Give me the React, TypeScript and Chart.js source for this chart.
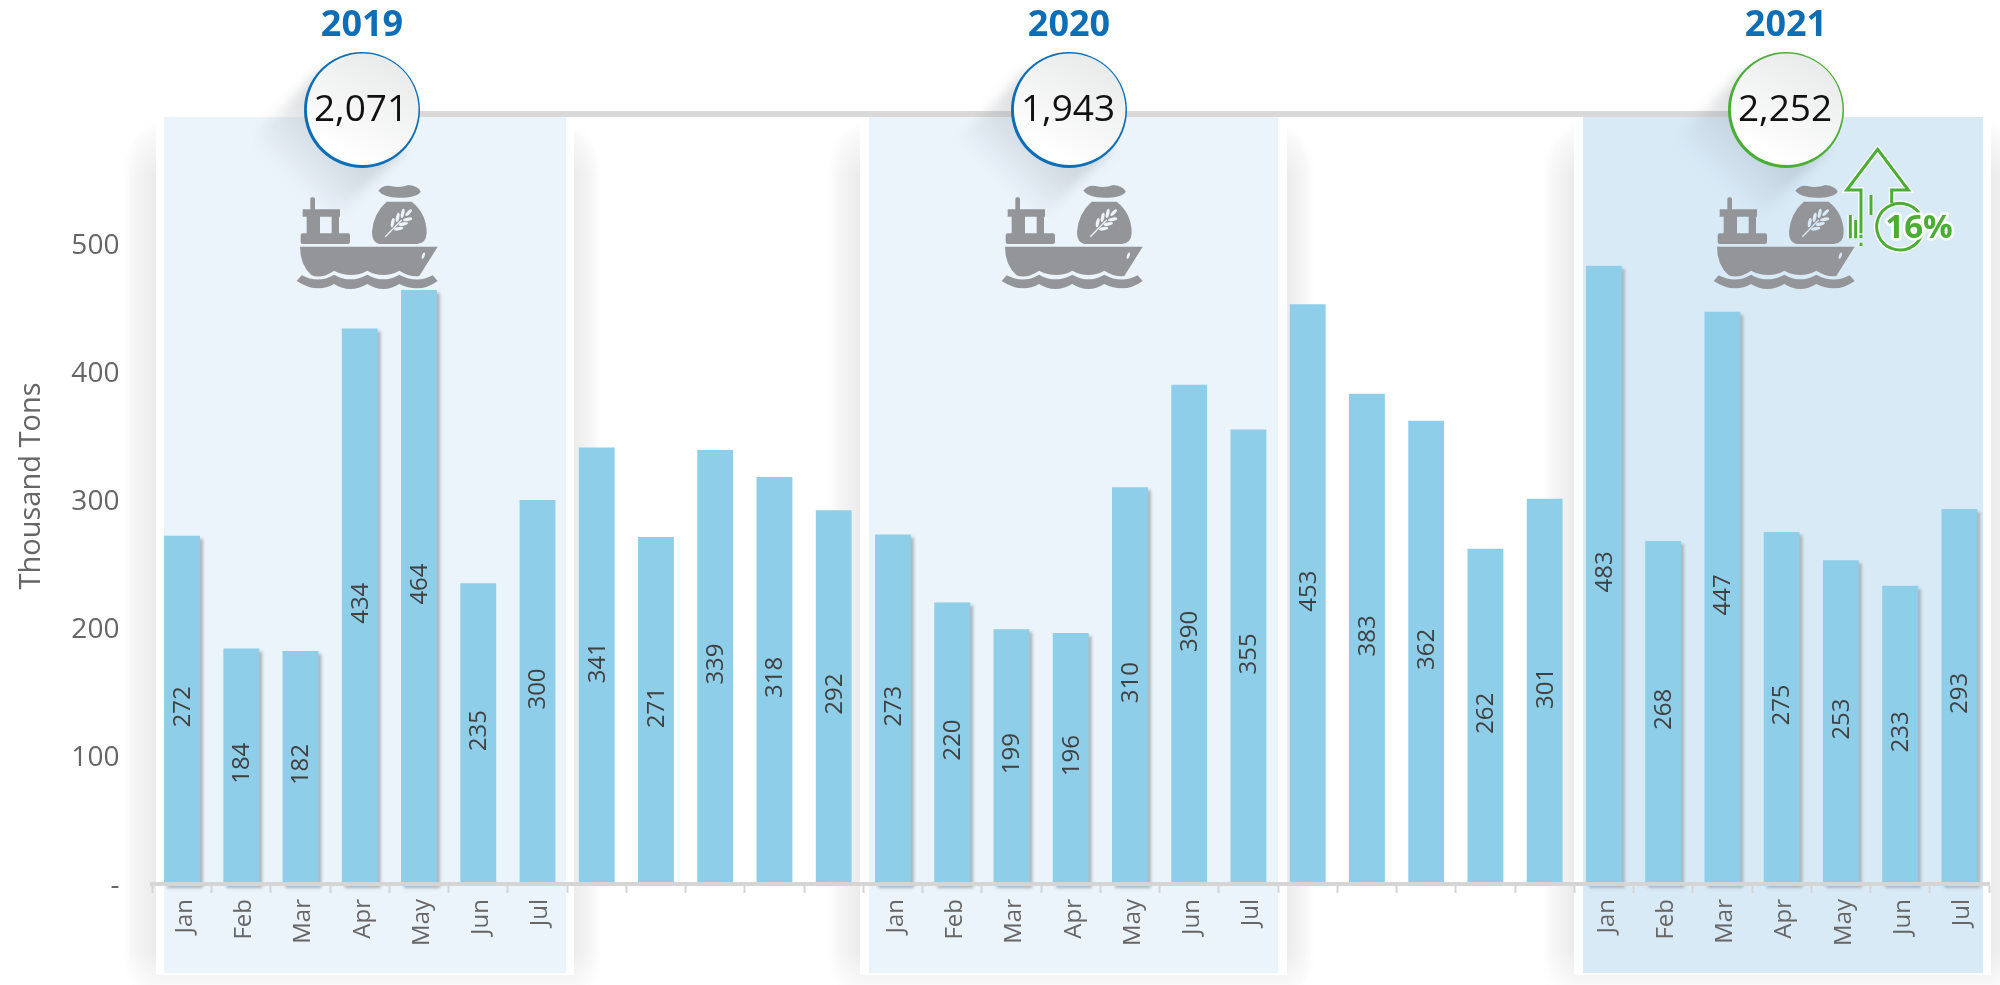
import React, { useEffect, useRef } from "react";
import { Chart, registerables } from "chart.js";

Chart.register(...registerables);

const months = ["Jan", "Feb", "Mar", "Apr", "May", "Jun", "Jul"];
const gap = ["", "", "", "", ""];
const categories = [...months, ...gap, ...months, ...gap, ...months];
const tons = [272, 184, 182, 434, 464, 235, 300, 341, 271, 339, 318, 292, 273, 220, 199, 196, 310, 390, 355, 453, 383, 362, 262, 301, 483, 268, 447, 275, 253, 233, 293];
const shadowedBars = [0, 1, 2, 3, 4, 12, 13, 14, 15, 16, 24, 25, 26, 27, 28, 29, 30];
const years = ["2019", "2020", "2021"];
const totals = ["2,071", "1,943", "2,252"];
const growth = "16%";
const yTitle = "Thousand Tons";

const FONT = '"Open Sans"';
const BLUE = "#0e6eb5";
const GREEN = "#4aad34";
const panels = [
  { sx: 127, sr: 597, wl: 156, wr: 574, l: 164, r: 566, fill: "#ebf3fb", cx: 362, tx: 362, ship: 0, rim: BLUE },
  { sx: 832, sr: 1310, wl: 860, wr: 1287, l: 869, r: 1278, fill: "#ebf3fb", cx: 1069, tx: 1069, ship: 705, rim: BLUE },
  { sx: 1547, sr: 2020, wl: 1574, wr: 1991, l: 1583, r: 1983, fill: "#d9eaf7", cx: 1786, tx: 1786, ship: 1417, rim: GREEN },
];

function drawShip(ctx: CanvasRenderingContext2D, dx: number, bg: string) {
  ctx.save();
  ctx.translate(130 + dx, 0);
  ctx.scale(1 / 3, 1 / 3);
  ctx.fillStyle = "#939598";
  ctx.fill(new Path2D("M510 740 H923 L868 828 Q840 832 808 812 Q760 838 712 812 Q665 838 612 812 Q575 838 545 826 Q510 795 510 740 Z"));
  ctx.fill(new Path2D("M500 843 L515 826 Q565 852 612 824 Q660 852 712 824 Q760 852 808 824 Q860 852 908 826 L923 843 Q870 882 808 852 Q760 882 712 852 Q660 882 612 852 Q560 882 500 843 Z"));
  ctx.beginPath();
  ctx.roundRect(512, 700, 148, 32, 6);
  ctx.rect(518, 628, 112, 22);
  ctx.rect(530, 650, 40, 52);
  ctx.rect(605, 650, 22, 52);
  ctx.roundRect(541, 592, 14, 40, 5);
  ctx.fill();
  ctx.fill(new Path2D("M745 572 Q760 553 782 558 Q808 566 835 555 Q865 558 872 575 Q860 593 808 593 Q760 592 745 572 Z"));
  ctx.fill(new Path2D("M770 605 H845 Q890 640 890 700 Q888 732 860 732 H755 Q726 732 726 695 Q730 640 770 605 Z"));
  ctx.fillStyle = bg;
  ctx.beginPath();
  ctx.ellipse(880, 767, 4, 10, 0.3, 0, Math.PI * 2);
  ctx.fill();
  ctx.strokeStyle = bg;
  ctx.lineWidth = 4;
  ctx.beginPath();
  ctx.moveTo(766, 710);
  ctx.lineTo(815, 660);
  ctx.stroke();
  const upper = [[788, 668], [803, 652], [818, 640]];
  const lower = [[806, 686], [820, 672], [833, 658]];
  upper.forEach(([x, y]) => {
    ctx.beginPath();
    ctx.ellipse(x, y, 14, 5, -1.35, 0, Math.PI * 2);
    ctx.fill();
  });
  lower.forEach(([x, y]) => {
    ctx.beginPath();
    ctx.ellipse(x, y, 14, 5, -0.2, 0, Math.PI * 2);
    ctx.fill();
  });
  ctx.beginPath();
  ctx.ellipse(836, 638, 13, 5, -0.8, 0, Math.PI * 2);
  ctx.fill();
  ctx.restore();
}

function drawArrow(ctx: CanvasRenderingContext2D) {
  ctx.save();
  ctx.translate(1560, 0);
  ctx.scale(1 / 3, 1 / 3);
  const segs = new Path2D("M903 700 V570 H860 L953 448 L1045 570 H995 V610 M933 585 V645 M871 645 V715 M887 660 V715 M903 704 V714 M903 728 V738");
  const ring = new Path2D();
  ring.arc(1020, 680, 70, -1.2, 5.3);
  ctx.lineJoin = "miter";
  ctx.strokeStyle = "#ffffff";
  ctx.lineWidth = 17;
  ctx.stroke(segs);
  ctx.stroke(ring);
  ctx.strokeStyle = GREEN;
  ctx.lineWidth = 9;
  ctx.stroke(segs);
  ctx.stroke(ring);
  ctx.restore();
  ctx.save();
  ctx.font = `bold 33px ${FONT}`;
  ctx.textAlign = "center";
  ctx.textBaseline = "alphabetic";
  ctx.lineWidth = 5;
  ctx.strokeStyle = "#ffffff";
  ctx.lineJoin = "round";
  ctx.strokeText(growth, 1919, 238);
  ctx.fillStyle = GREEN;
  ctx.fillText(growth, 1919, 238);
  ctx.restore();
}

const decorations = {
  id: "decorations",
  beforeDraw(chart: any) {
    const { ctx } = chart;
    ctx.save();
    panels.forEach((p) => {
      const w = p.sr - p.sx;
      const g = ctx.createLinearGradient(p.sx, 0, p.sr, 0);
      g.addColorStop(0, "#fafafa");
      g.addColorStop((p.wl - p.sx) / w, "#ebebeb");
      g.addColorStop((p.wr - p.sx) / w, "#ebebeb");
      g.addColorStop(1, "#fafafa");
      ctx.save();
      ctx.filter = "blur(3px)";
      ctx.fillStyle = g;
      ctx.beginPath();
      ctx.roundRect(p.sx, 123, w, 880, 45);
      ctx.fill();
      ctx.restore();
      const top = ctx.createLinearGradient(0, 120, 0, 175);
      top.addColorStop(0, "rgba(255,255,255,0.9)");
      top.addColorStop(1, "rgba(255,255,255,0)");
      ctx.fillStyle = top;
      ctx.fillRect(p.sx - 6, 118, w + 12, 58);
      const bottom = ctx.createLinearGradient(0, 950, 0, 985);
      bottom.addColorStop(0, "rgba(255,255,255,0)");
      bottom.addColorStop(1, "rgba(255,255,255,0.7)");
      ctx.fillStyle = bottom;
      ctx.fillRect(p.sx - 6, 950, w + 12, 35);
      ctx.fillStyle = "#ffffff";
      ctx.fillRect(p.wl, 117, p.wr - p.wl, 858);
      ctx.fillStyle = p.fill;
      ctx.fillRect(p.l, 117, p.r - p.l, 856);
    });
    ctx.save();
    ctx.translate(40, 486);
    ctx.rotate(-Math.PI / 2);
    ctx.font = `29px ${FONT}`;
    ctx.fillStyle = "#666666";
    ctx.textAlign = "center";
    ctx.textBaseline = "alphabetic";
    ctx.fillText(yTitle, 0, 0);
    ctx.restore();
    ctx.restore();
  },
  beforeDatasetsDraw(chart: any) {
    const { ctx } = chart;
    const meta = chart.getDatasetMeta(0);
    ctx.save();
    ctx.filter = "blur(1.5px)";
    ctx.fillStyle = "#adb5ba";
    shadowedBars.forEach((i) => {
      const b = meta.data[i];
      ctx.fillRect(b.x - b.width / 2 + 3, b.y + 3, b.width, b.base - b.y + 1);
    });
    ctx.restore();
  },
  afterDatasetsDraw(chart: any) {
    const { ctx } = chart;
    const meta = chart.getDatasetMeta(0);
    ctx.save();
    ctx.font = `24px ${FONT}`;
    ctx.fillStyle = "#404040";
    ctx.textAlign = "center";
    ctx.textBaseline = "middle";
    meta.data.forEach((b: any, i: number) => {
      ctx.save();
      ctx.translate(b.x + 1, (b.y + b.base) / 2 - 3);
      ctx.rotate(-Math.PI / 2);
      ctx.fillText(String(tons[i]), 0, 0);
      ctx.restore();
    });
    ctx.restore();
  },
  afterDraw(chart: any) {
    const { ctx } = chart;
    ctx.save();
    ctx.fillStyle = "#d9d9d9";
    ctx.fillRect(panels[0].cx, 111, panels[2].cx - panels[0].cx, 6);
    panels.forEach((p, i) => {
      drawShip(ctx, p.ship, p.fill);
      const R = 58;
      const cy = 110;
      ctx.save();
      const g = ctx.createLinearGradient(p.cx, cy, p.cx - 72, cy + 72);
      g.addColorStop(0, "rgba(110,120,130,0.34)");
      g.addColorStop(1, "rgba(110,120,130,0)");
      ctx.fillStyle = g;
      ctx.filter = "blur(6px)";
      ctx.beginPath();
      ctx.moveTo(p.cx - R * 0.7, cy - R * 0.7);
      ctx.lineTo(p.cx - R * 0.7 - 80, cy - R * 0.7 + 80);
      ctx.lineTo(p.cx + R * 0.7 - 80, cy + R * 0.7 + 80);
      ctx.lineTo(p.cx + R * 0.7, cy + R * 0.7);
      ctx.closePath();
      ctx.fill();
      ctx.restore();
      ctx.fillStyle = p.rim;
      ctx.beginPath();
      ctx.arc(p.cx, cy, R, 0, Math.PI * 2);
      ctx.fill();
      const d = ctx.createLinearGradient(p.cx + 30, cy - 50, p.cx - 20, cy + 45);
      d.addColorStop(0, "#e9eaea");
      d.addColorStop(1, "#ffffff");
      ctx.fillStyle = d;
      ctx.beginPath();
      ctx.arc(p.cx + 0.7, cy - 0.7, R - 2.2, 0, Math.PI * 2);
      ctx.fill();
      ctx.fillStyle = "#111111";
      ctx.font = `37px ${FONT}`;
      ctx.textAlign = "center";
      ctx.textBaseline = "alphabetic";
      ctx.fillText(totals[i], p.cx - 1, 121);
      ctx.fillStyle = BLUE;
      ctx.font = `bold 36px ${FONT}`;
      ctx.fillText(years[i], p.tx, 36);
    });
    drawArrow(ctx);
    ctx.restore();
  },
};

export default function App() {
  const ref = useRef<HTMLCanvasElement>(null);
  useEffect(() => {
    const chart = new Chart(ref.current!, {
      type: "bar",
      data: {
        labels: categories,
        datasets: [{ data: tons, backgroundColor: "#8fcee8", categoryPercentage: 0.605, barPercentage: 1 }],
      },
      plugins: [decorations],
      options: {
        animation: false,
        responsive: false,
        maintainAspectRatio: false,
        layout: { padding: { top: 180, right: 11, left: 0, bottom: 0 } },
        plugins: { legend: { display: false }, tooltip: { enabled: false }, title: { display: false } },
        scales: {
          x: {
            afterFit: (s: any) => { s.height = 101; },
            grid: { display: true, drawOnChartArea: false, drawTicks: true, tickLength: 9, tickColor: "#d5d5d5", tickWidth: 2, z: 1 },
            border: { display: true, color: "#d5d5d5", width: 4, z: 1 },
            ticks: { autoSkip: false, minRotation: 90, maxRotation: 90, color: "#666666", padding: 6, labelOffset: 3, font: { family: FONT, size: 24 } },
          },
          y: {
            min: 0,
            max: 550,
            afterFit: (s: any) => { s.width = 152.4; },
            grid: { display: false, drawTicks: false },
            border: { display: false },
            ticks: {
              stepSize: 100,
              padding: 33,
              labelOffset: 2,
              color: "#666666",
              font: { family: FONT, size: 28 },
              callback: (v: any) => (v === 0 ? "-" : v > 500 ? null : String(v)),
            },
          },
        },
      },
    } as any);
    return () => chart.destroy();
  }, []);
  return <canvas ref={ref} width={2000} height={985} style={{ position: "fixed", left: 0, top: 0, display: "block" }} />;
}
